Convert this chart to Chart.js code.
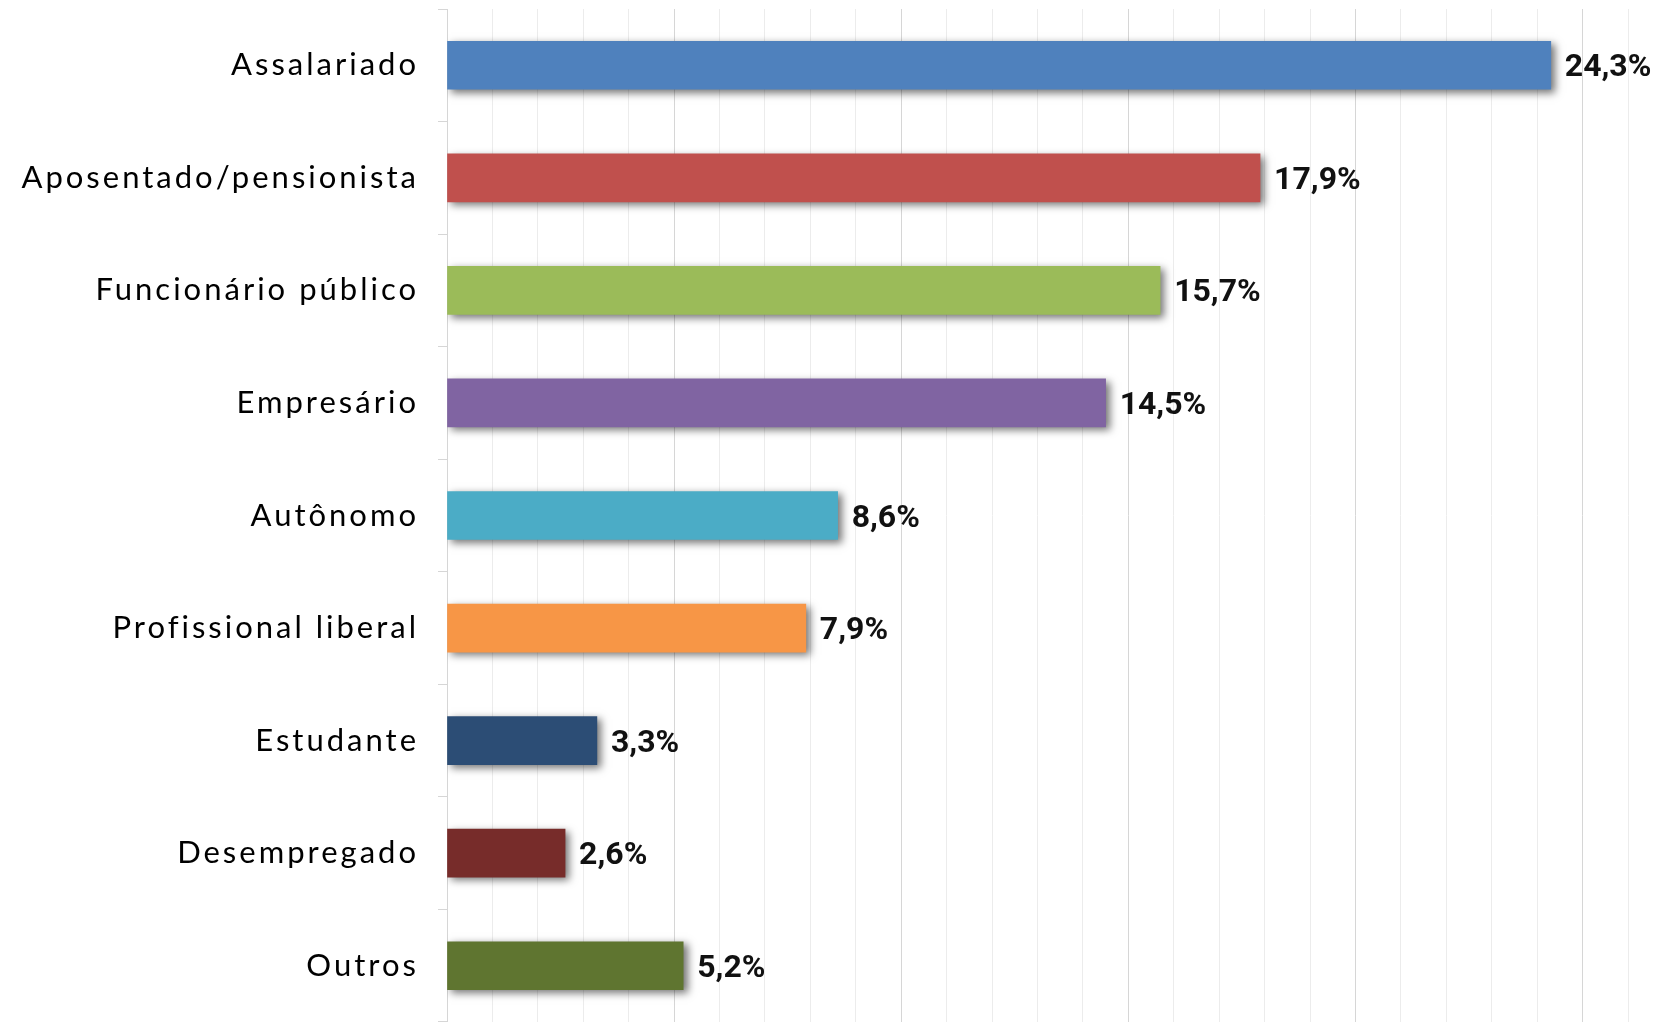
<!DOCTYPE html>
<html>
<head>
<meta charset="utf-8">
<script src="https://cdn.jsdelivr.net/npm/chart.js@4.4.1/dist/chart.umd.min.js"></script>
<style>
  html, body { margin: 0; padding: 0; background: #fff; overflow: hidden; }
</style>
</head>
<body>
<canvas id="ocupacao" width="1657" height="1022"></canvas>
<script>
const categorias = [
    "Assalariado",
    "Aposentado/pensionista",
    "Funcionário público",
    "Empresário",
    "Autônomo",
    "Profissional liberal",
    "Estudante",
    "Desempregado",
    "Outros"
];
const valores = [24.3, 17.9, 15.7, 14.5, 8.6, 7.9, 3.3, 2.6, 5.2];
const cores = ["#4F81BD", "#C0504D", "#9BBB59", "#8064A2", "#4BACC6", "#F79646", "#2C4D75", "#772C2A", "#5F7530"];
const eixoMax = 26;

// sombra nas barras + rótulos com o percentual
const sombraERotulos = {
    id: 'sombraERotulos',
    beforeDraw(chart) {
        chart.ctx.letterSpacing = '3px';
    },
    beforeDatasetsDraw(chart) {
        const ctx = chart.ctx;
        ctx.save();
        ctx.shadowColor = 'rgba(0,0,0,0.55)';
        ctx.shadowBlur = 8;
        ctx.shadowOffsetX = 4;
        ctx.shadowOffsetY = 3;
    },
    afterDatasetsDraw(chart) {
        const ctx = chart.ctx;
        ctx.restore();
        ctx.save();
        ctx.letterSpacing = '0px';
        ctx.font = 'bold 32px Roboto';
        ctx.fillStyle = '#111';
        ctx.textAlign = 'left';
        ctx.textBaseline = 'middle';
        chart.getDatasetMeta(0).data.forEach((bar, i) => {
            const txt = valores[i].toFixed(1).replace('.', ',') + '%';
            ctx.fillText(txt, bar.x + 14, bar.y + 3);
        });
        ctx.restore();
    }
};

new Chart(document.getElementById('ocupacao').getContext('2d'), {
    type: 'bar',
    data: {
        labels: categorias,
        datasets: [{
            data: valores,
            backgroundColor: cores,
            borderWidth: 0,
            barThickness: 48
        }]
    },
    options: {
        indexAxis: 'y',
        responsive: false,
        animation: false,
        layout: { padding: { top: 9, right: 29, bottom: 0, left: 0 } },
        plugins: {
            legend: { display: false },
            tooltip: { enabled: false }
        },
        scales: {
            x: {
                min: 0,
                max: eixoMax,
                afterFit(scale) { scale.height = 0; },
                ticks: { display: false, stepSize: 1 },
                border: { display: false },
                grid: {
                    drawTicks: false,
                    color: (c) => (c.tick && c.tick.value % 5 === 0) ? '#d6d6d6' : '#ececec'
                }
            },
            y: {
                afterFit(scale) {
                    scale.width = 447;
                    scale.paddingTop = 0;
                    scale.paddingBottom = 0;
                },
                border: { color: '#d6d6d6' },
                grid: {
                    drawOnChartArea: false,
                    tickLength: 9,
                    color: '#d6d6d6'
                },
                ticks: {
                    color: '#000',
                    padding: 19,
                    font: { family: 'Lato', size: 31 }
                }
            }
        }
    },
    plugins: [sombraERotulos]
});
</script>
</body>
</html>
